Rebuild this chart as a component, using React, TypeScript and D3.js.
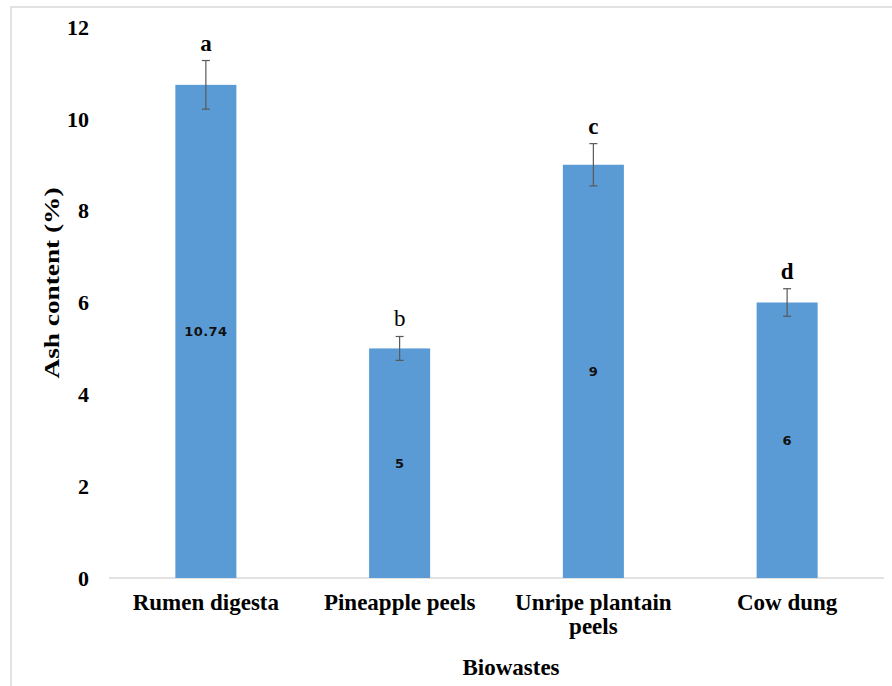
import React from "react";
import * as d3 from "d3";

const categories = ["Rumen digesta", "Pineapple peels", "Unripe plantain peels", "Cow dung"];
const categoryLines = [["Rumen digesta"], ["Pineapple peels"], ["Unripe plantain", "peels"], ["Cow dung"]];
const values = [10.74, 5, 9, 6];
const errors = [0.53, 0.26, 0.46, 0.3];
const letters = ["a", "b", "c", "d"];
const letterBold = [true, false, true, true];
const yTicks = [0, 2, 4, 6, 8, 10, 12];

const W = 892;
const H = 686;
const plot = { left: 109, right: 884, top: 27, bottom: 578 };

export default function App() {
  const x = d3
    .scaleBand<string>()
    .domain(categories)
    .range([plot.left, plot.right])
    .paddingInner(0.685)
    .paddingOuter(0.3425);
  const y = d3.scaleLinear().domain([0, 12]).range([plot.bottom, plot.top]);
  const serif = "'Liberation Serif', 'Times New Roman', serif";
  const sans = "'DejaVu Sans', Verdana, sans-serif";

  return (
    <svg
      width={W}
      height={H}
      style={{ position: "absolute", left: 0, top: 0, background: "#fff" }}
    >
      <rect x={11} y={7} width={W + 10} height={H + 10} fill="#fff" stroke="#d9d9d9" strokeWidth={1.5} />
      {yTicks.map((t) => (
        <text
          key={t}
          x={89}
          y={y(t)}
          dy="0.35em"
          textAnchor="end"
          fontFamily={serif}
          fontWeight="bold"
          fontSize={22}
          fill="#000"
        >
          {t}
        </text>
      ))}
      <line x1={plot.left} x2={plot.right} y1={plot.bottom} y2={plot.bottom} stroke="#d9d9d9" strokeWidth={1.5} />
      {categories.map((c, i) => {
        const bx = x(c)!;
        const bw = x.bandwidth();
        const cx = bx + bw / 2;
        const top = y(values[i] + errors[i]);
        const bot = y(values[i] - errors[i]);
        return (
          <g key={c}>
            <rect x={bx} y={y(values[i])} width={bw} height={plot.bottom - y(values[i])} fill="#5B9BD5" />
            <line x1={cx} x2={cx} y1={top} y2={bot} stroke="#595959" strokeWidth={1.2} />
            <line x1={cx - 4} x2={cx + 4} y1={top} y2={top} stroke="#595959" strokeWidth={1.2} />
            <line x1={cx - 4} x2={cx + 4} y1={bot} y2={bot} stroke="#595959" strokeWidth={1.2} />
            <text
              x={cx}
              y={top - 10}
              textAnchor="middle"
              fontFamily={serif}
              fontWeight={letterBold[i] ? "bold" : "normal"}
              fontSize={23}
              fill="#000"
            >
              {letters[i]}
            </text>
            <text
              x={cx}
              y={y(values[i] / 2)}
              dy="0.36em"
              textAnchor="middle"
              fontFamily={sans}
              fontWeight="bold"
              fontSize={13}
              letterSpacing={0.4}
              fill="#111"
            >
              {values[i]}
            </text>
            {categoryLines[i].map((ln, j) => (
              <text
                key={j}
                x={cx}
                y={610 + j * 24}
                textAnchor="middle"
                fontFamily={serif}
                fontWeight="bold"
                fontSize={23}
                fill="#000"
              >
                {ln}
              </text>
            ))}
          </g>
        );
      })}
      <text
        transform={`translate(59, ${283}) rotate(-90) scale(1.3, 1)`}
        textAnchor="middle"
        fontFamily={serif}
        fontWeight="bold"
        fontSize={21}
        fill="#000"
      >
        Ash content (%)
      </text>
      <text
        x={511}
        y={675}
        textAnchor="middle"
        fontFamily={serif}
        fontWeight="bold"
        fontSize={23}
        fill="#000"
      >
        Biowastes
      </text>
    </svg>
  );
}
